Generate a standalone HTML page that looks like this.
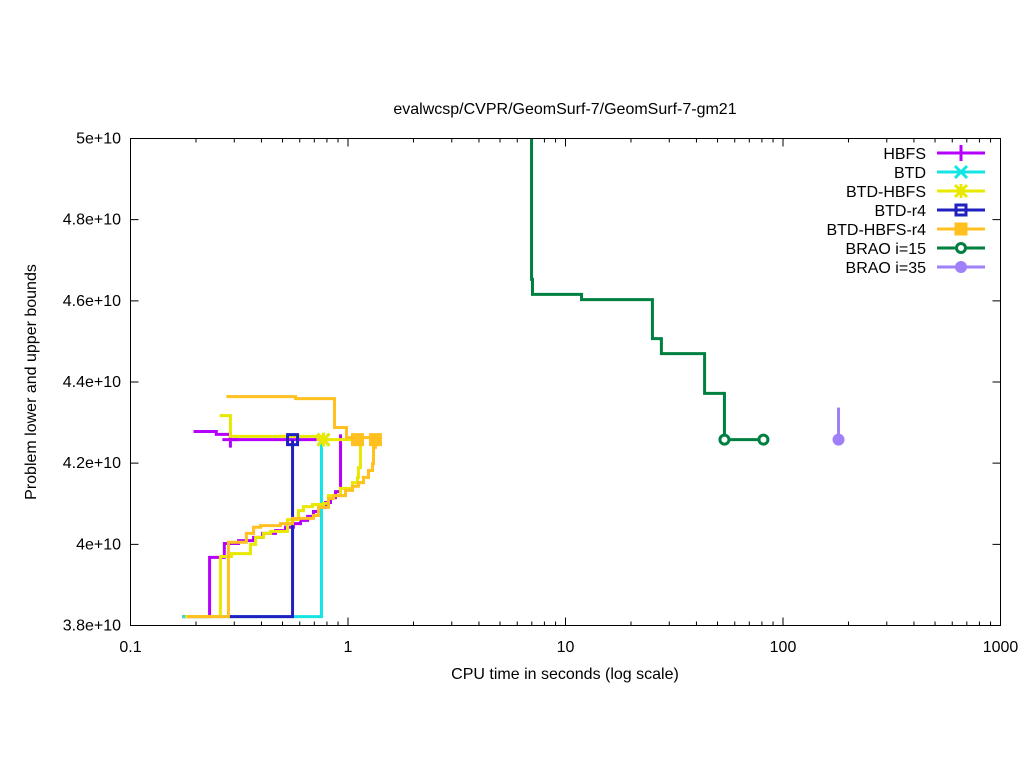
<!DOCTYPE html>
<html><head><meta charset="utf-8"><style>
html,body{margin:0;padding:0;background:#fff}
svg{display:block}
text{font-family:"Liberation Sans",Arial,sans-serif;fill:#000}
</style></head><body>
<svg id="chart" width="1024" height="768" viewBox="0 0 1024 768" xmlns="http://www.w3.org/2000/svg">
<rect width="1024" height="768" fill="#fff"/>
<text x="565" y="114" font-size="16" text-anchor="middle">evalwcsp/CVPR/GeomSurf-7/GeomSurf-7-gm21</text>
<text x="565" y="679" font-size="16" text-anchor="middle">CPU time in seconds (log scale)</text>
<text x="36" y="382" font-size="16" text-anchor="middle" transform="rotate(-90 36 382)">Problem lower and upper bounds</text>
<g id="grid"></g>
<g id="series"></g>
<g id="legend"></g>
<rect x="130.5" y="138.5" width="870" height="487" fill="none" stroke="#000" stroke-width="1"/>
</svg>
<script>
const xTicks = [0.1, 1, 10, 100, 1000];
const xTickLabels = ["0.1", "1", "10", "100", "1000"];
const yTicks = [3.8, 4.0, 4.2, 4.4, 4.6, 4.8, 5.0];
const yTickLabels = ["3.8e+10", "4e+10", "4.2e+10", "4.4e+10", "4.6e+10", "4.8e+10", "5e+10"];
const seriesNames = ["HBFS", "BTD", "BTD-HBFS", "BTD-r4", "BTD-HBFS-r4", "BRAO i=15", "BRAO i=35"];

const hbfsLower = [[0.173,3.822],[0.231,3.968],[0.270,4.002],[0.314,4.009],[0.368,4.017],[0.405,4.027],[0.464,4.034],[0.516,4.042],[0.561,4.051],[0.605,4.059],[0.652,4.069],[0.694,4.081],[0.748,4.091],[0.788,4.103],[0.831,4.115],[0.876,4.130],[0.924,4.271]];
const hbfsUpper = [[0.195,4.278],[0.248,4.271],[0.288,4.258],[0.788,4.258]];
const hbfsMarks = [[0.288,4.258]];
const btdLower = [[0.173,3.822],[0.755,4.258]];
const btdMarks = [[0.771,4.258]];
const btdhLower = [[0.178,3.822],[0.259,3.970],[0.291,3.977],[0.356,4.000],[0.376,4.017],[0.409,4.027],[0.441,4.032],[0.527,4.061],[0.592,4.083],[0.624,4.093],[0.687,4.098],[0.771,4.101],[0.813,4.120],[0.924,4.138],[1.049,4.152],[1.106,4.165],[1.117,4.189],[1.141,4.258]];
const btdhUpper = [[0.257,4.317],[0.288,4.266],[0.771,4.258],[1.141,4.258]];
const btdhMarks = [[0.771,4.258]];
const btdr4Lower = [[0.282,3.822],[0.556,4.258]];
const btdr4Marks = [[0.556,4.258]];
const btdhr4Lower = [[0.182,3.822],[0.282,4.005],[0.341,4.027],[0.368,4.042],[0.396,4.046],[0.489,4.051],[0.556,4.064],[0.694,4.071],[0.732,4.091],[0.813,4.113],[0.858,4.120],[0.974,4.133],[1.049,4.143],[1.117,4.152],[1.178,4.165],[1.242,4.182],[1.296,4.199],[1.310,4.239],[1.337,4.258]];
const btdhr4Upper = [[0.276,4.364],[0.574,4.359],[0.867,4.288],[0.984,4.263],[1.337,4.258]];
const btdhr4Marks = [[1.106,4.258],[1.337,4.258]];
const brao15 = [[6.98,5.0],[6.98,4.653],[7.05,4.616],[11.85,4.603],[25.1,4.507],[27.6,4.470],[43.6,4.372],[53.8,4.258],[81.3,4.258]];
const brao15Marks = [[53.8,4.258],[81.3,4.258]];
const brao35 = [[180,4.337],[180,4.258]];
const brao35Marks = [[180,4.258]];

const NS = "http://www.w3.org/2000/svg";
const X0 = 130.5, X1 = 1000.5, Y0 = 625.5, Y1 = 138.5;
function xs(t){ return X0 + (Math.log10(t) + 1) / 4 * (X1 - X0); }
function ys(v){ return Y0 - (v - 3.8) / 1.2 * (Y0 - Y1); }
function mk(tag, attrs, parent){ const e = document.createElementNS(NS, tag); for (const k in attrs) e.setAttribute(k, attrs[k]); parent.appendChild(e); return e; }

const grid = document.getElementById('grid');
xTicks.forEach((t, i) => {
  const x = xs(t);
  const tk = mk('path', {d:`M${x},${Y0}v-8M${x},${Y1}v8`, stroke:'#000', 'stroke-width':1}, grid);
  
  
  const lb = mk('text', {x:x, y:652, 'font-size':16, 'text-anchor':'middle'}, grid);
  lb.textContent = xTickLabels[i];
  
  
  if (i < xTicks.length - 1) {
    for (let m = 2; m <= 9; m++) {
      const xm = xs(t * m);
      const mt = mk('path', {d:`M${xm},${Y0}v-4M${xm},${Y1}v4`, stroke:'#000', 'stroke-width':1}, grid);
      
      
    }
  }
});
yTicks.forEach((v, i) => {
  const y = ys(v);
  const tk = mk('path', {d:`M${X0},${y}h8M${X1},${y}h-8`, stroke:'#000', 'stroke-width':1}, grid);
  
  
  const lb = mk('text', {x:121, y:y + 5, 'font-size':16, 'text-anchor':'end'}, grid);
  lb.textContent = yTickLabels[i];
  
  
});

const colors = ['#b400ff', '#14e4e4', '#e8e800', '#2020c0', '#ffc020', '#008040', '#9f80f8'];
const sg = document.getElementById('series');
function stepPath(pts){
  let d = `M${xs(pts[0][0])},${ys(pts[0][1])}`;
  for (let i = 1; i < pts.length; i++) d += `H${xs(pts[i][0])}V${ys(pts[i][1])}`;
  return d;
}
function marker(kind, x, y, c, g){
  let e;
  if (kind === 0) e = mk('path', {d:`M${x-8},${y}h16M${x},${y-8}v16`, stroke:c, 'stroke-width':3, fill:'none'}, g);
  else if (kind === 1) e = mk('path', {d:`M${x-6},${y-6}l12,12M${x-6},${y+6}l12,-12`, stroke:c, 'stroke-width':3, fill:'none'}, g);
  else if (kind === 2) e = mk('path', {d:`M${x-6},${y-6}l12,12M${x-6},${y+6}l12,-12M${x-7},${y}h14M${x},${y-7}v14`, stroke:c, 'stroke-width':3, fill:'none'}, g);
  else if (kind === 3) e = mk('rect', {x:x-5, y:y-5, width:10, height:10, stroke:c, 'stroke-width':3, fill:'none'}, g);
  else if (kind === 4) e = mk('rect', {x:x-6.5, y:y-6.5, width:13, height:13, fill:c}, g);
  else if (kind === 5) { e = mk('circle', {cx:x, cy:y, r:4.5, stroke:c, 'stroke-width':3, fill:'#fff'}, g); }
  else e = mk('circle', {cx:x, cy:y, r:6, fill:c}, g);
  return e;
}
const seriesLines = [[hbfsLower, hbfsUpper],[btdLower],[btdhLower, btdhUpper],[btdr4Lower],[btdhr4Lower, btdhr4Upper],[brao15],[brao35]];
const seriesMarks = [hbfsMarks, btdMarks, btdhMarks, btdr4Marks, btdhr4Marks, brao15Marks, brao35Marks];
const drawOrder = [0,1,2,3,4,5,6];
drawOrder.forEach(s => {
  const g = mk('g', {}, sg);
  
  
  seriesLines[s].forEach(pts => {
    const p = mk('path', {d:stepPath(pts), stroke:colors[s], 'stroke-width':3, fill:'none'}, g);
    
    
  });
  seriesMarks[s].forEach(pt => {
    const m = marker(s, xs(pt[0]), ys(pt[1]), colors[s], g);
    
    
  });
});

const lg = document.getElementById('legend');
seriesNames.forEach((n, i) => {
  const y = 153 + i * 19;
  const g = mk('g', {}, lg);
  
  
  const t = mk('text', {x:926, y:y + 6, 'font-size':16, 'text-anchor':'end'}, g);
  t.textContent = n;
  
  
  const l = mk('path', {d:`M937,${y}h48`, stroke:colors[i], 'stroke-width':3}, g);
  
  
  const m = marker(i, 961, y, colors[i], g);
  
  
});
</script>
</body></html>
